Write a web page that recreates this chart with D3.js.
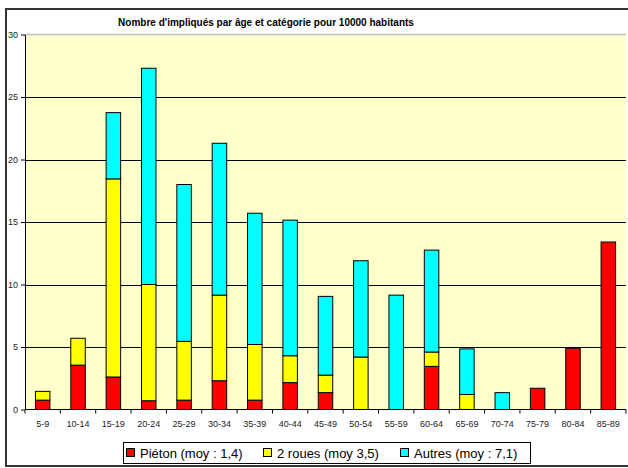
<!DOCTYPE html>
<html>
<head>
<meta charset="utf-8">
<script src="https://cdn.jsdelivr.net/npm/d3@7"></script>
<style>
  html, body { margin: 0; padding: 0; background: #fff; }
  svg { display: block; font-family: Arial, "Liberation Sans", sans-serif; }
</style>
</head>
<body>
<div id="chart"></div>
<script>
// age groups and values per 10000 inhabitants
const ages = ["5-9", "10-14", "15-19", "20-24", "25-29", "30-34", "35-39", "40-44", "45-49",
  "50-54", "55-59", "60-64", "65-69", "70-74", "75-79", "80-84", "85-89"];
const pieton = [0.75, 3.55, 2.6, 0.7, 0.75, 2.3, 0.75, 2.15, 1.35, 0, 0, 3.45, 0, 0, 1.7, 4.9, 13.4];
const deuxRoues = [0.7, 2.15, 15.85, 9.3, 4.7, 6.85, 4.45, 2.15, 1.4, 4.2, 0, 1.15, 1.2, 0, 0, 0, 0];
const autres = [0, 0, 5.3, 17.3, 12.55, 12.15, 10.5, 10.85, 6.3, 7.7, 9.15, 8.15, 3.65, 1.35, 0, 0, 0];
const seriesNames = ["Piéton (moy : 1,4)", "2 roues (moy 3,5)", "Autres (moy : 7,1)"];
const seriesColors = ["#ff0000", "#ffff00", "#00ffff"];
const yTicks = [0, 5, 10, 15, 20, 25, 30];

const width = 628, height = 468;
const plot = { left: 25, right: 626, top: 34.5, bottom: 409.5 };

const svg = d3.select("#chart").append("svg")
  .attr("width", width)
  .attr("height", height);

// outer frame (cut off on the right like the original)
svg.append("rect")
  .attr("x", 6).attr("y", 9)
  .attr("width", 640).attr("height", 457)
  .attr("fill", "#fff")
  .attr("stroke", "#333")
  .attr("stroke-width", 2);

svg.append("text")
  .attr("x", 266).attr("y", 26)
  .attr("text-anchor", "middle")
  .style("font-size", "10px")
  .style("font-weight", "bold")
  .text("Nombre d'impliqués par âge et catégorie pour 10000 habitants");

const x = d3.scaleBand()
  .domain(ages)
  .range([plot.left, plot.right])
  .paddingInner(0.59)
  .paddingOuter(0.295);

const y = d3.scaleLinear()
  .domain([0, 30])
  .range([plot.bottom, plot.top]);

// plot background
svg.append("rect")
  .attr("x", plot.left).attr("y", plot.top)
  .attr("width", plot.right - plot.left).attr("height", plot.bottom - plot.top)
  .attr("fill", "#ffffcc");

svg.append("line")
  .attr("x1", plot.left).attr("x2", plot.right)
  .attr("y1", plot.top).attr("y2", plot.top)
  .attr("stroke", "#c0c0c0")
  .attr("stroke-width", 1.5);

// gridlines
svg.append("g")
  .selectAll("line")
  .data(yTicks.filter(d => d > 0 && d < 30))
  .join("line")
  .attr("x1", plot.left).attr("x2", plot.right)
  .attr("y1", d => Math.round(y(d)) + 0.5)
  .attr("y2", d => Math.round(y(d)) + 0.5)
  .attr("stroke", "#000");

// stacked bars
const table = ages.map((a, i) => ({ age: a, p: pieton[i], r: deuxRoues[i], o: autres[i] }));
const stacked = d3.stack().keys(["p", "r", "o"])(table);

svg.append("g")
  .selectAll("g")
  .data(stacked)
  .join("g")
  .attr("fill", (d, i) => seriesColors[i])
  .selectAll("rect")
  .data(d => d.filter(s => s[1] - s[0] > 0))
  .join("rect")
  .attr("x", d => x(d.data.age))
  .attr("width", x.bandwidth())
  .attr("y", d => y(d[1]))
  .attr("height", d => y(d[0]) - y(d[1]))
  .attr("stroke", "#000")
  .attr("stroke-width", 1);

// y axis
const yAxis = svg.append("g")
  .attr("transform", `translate(${plot.left},0)`)
  .call(d3.axisLeft(y).tickValues(yTicks).tickSize(4).tickSizeOuter(0).tickPadding(3));
yAxis.select(".domain").attr("stroke", "#000");
yAxis.selectAll(".tick line").attr("stroke", "#000");
yAxis.selectAll("text").style("font-size", "9px").attr("fill", "#222");

// x axis with ticks between categories
const xAxis = svg.append("g")
  .attr("transform", `translate(0,${plot.bottom})`);
xAxis.append("line")
  .attr("x1", plot.left).attr("x2", plot.right)
  .attr("stroke", "#000");
xAxis.selectAll("line.tk")
  .data(d3.range(ages.length + 1))
  .join("line")
  .attr("class", "tk")
  .attr("x1", i => plot.left + i * x.step())
  .attr("x2", i => plot.left + i * x.step())
  .attr("y1", 0).attr("y2", 4)
  .attr("stroke", "#000");
xAxis.selectAll("text")
  .data(ages)
  .join("text")
  .attr("x", d => x(d) + x.bandwidth() / 2)
  .attr("y", 17)
  .attr("text-anchor", "middle")
  .style("font-size", "9px")
  .attr("fill", "#222")
  .text(d => d);

// legend
const legend = svg.append("g");
legend.append("rect")
  .attr("x", 123.5).attr("y", 442.5)
  .attr("width", 407).attr("height", 21)
  .attr("fill", "#fff")
  .attr("stroke", "#000");
const legendX = [126, 263, 400];
const item = legend.selectAll("g.item")
  .data(seriesNames)
  .join("g")
  .attr("class", "item")
  .attr("transform", (d, i) => `translate(${legendX[i]},448)`);
item.append("rect")
  .attr("x", 0.5).attr("y", 0.5)
  .attr("width", 8).attr("height", 8)
  .attr("fill", (d, i) => seriesColors[i])
  .attr("stroke", "#000");
item.append("text")
  .attr("x", 14).attr("y", 9.5)
  .style("font-size", "13px")
  .text(d => d);
</script>
</body>
</html>
